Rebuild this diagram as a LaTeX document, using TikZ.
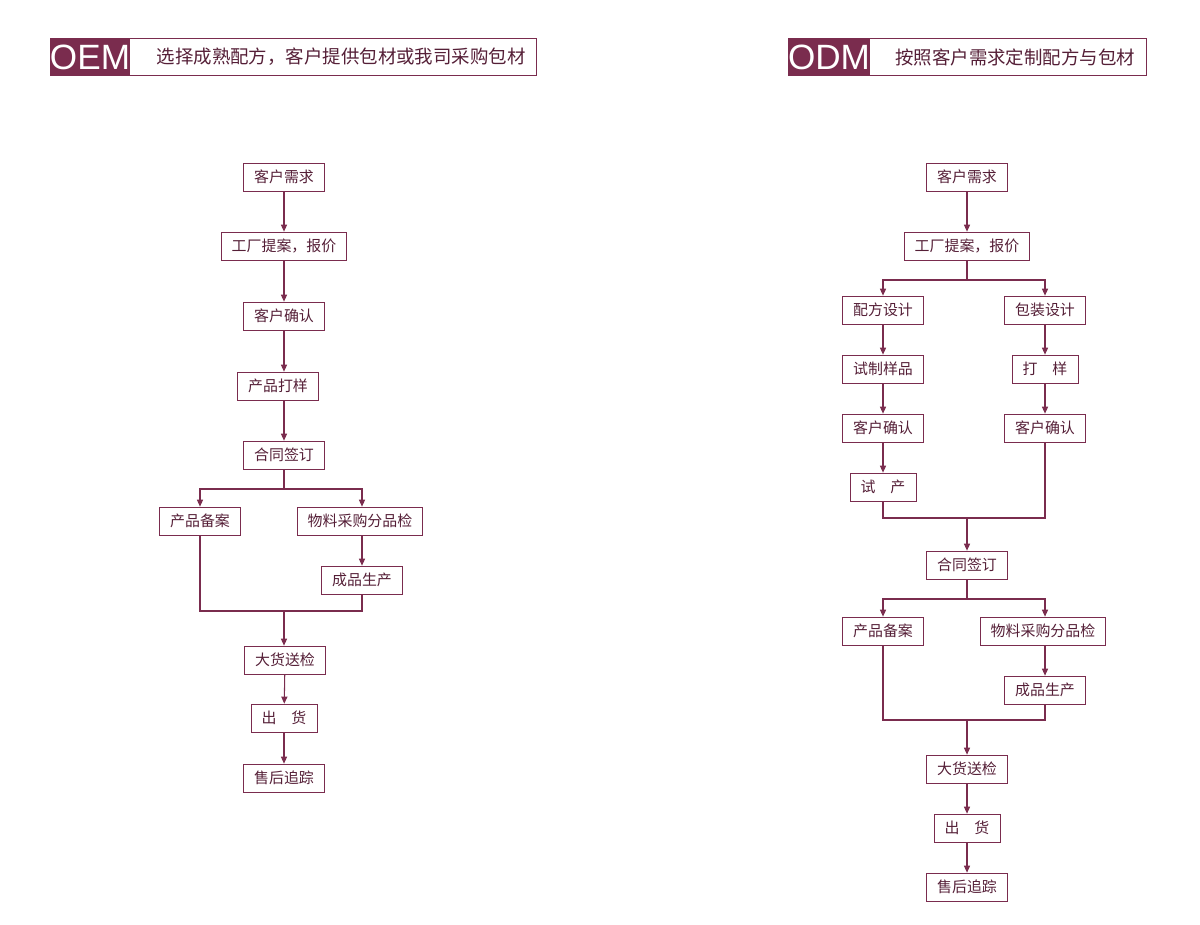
\documentclass[tikz,border=0pt]{standalone}
\usepackage{fontspec}
\setmainfont{Liberation Sans}
\newfontfamily\cjk{Noto Sans CJK SC}
\usetikzlibrary{arrows.meta,positioning}
\definecolor{plum}{HTML}{7A2C4E}
\tikzset{
	box/.style={draw=plum,rectangle,align=center,minimum height=0.56cm,inner xsep=6pt,font=\cjk\fontsize{8.5}{10}\selectfont,text=plum!70!black},
	flow/.style={draw=plum,line width=0.6pt,-{Triangle[length=4pt,width=3.5pt]}},
	link/.style={draw=plum,line width=0.6pt},
	tag/.style={fill=plum,text=white,minimum height=0.74cm,minimum width=1.62cm,inner sep=0pt,font=\fontsize{20}{20}\selectfont},
	banner/.style={draw=plum,line width=0.8pt,minimum height=0.74cm,inner sep=0pt,anchor=west,font=\cjk\fontsize{10.5}{12}\selectfont,text=plum!70!black}
}
\begin{document}
\begin{tikzpicture}[x=0.02cm,y=-0.02cm]
	\useasboundingbox (0,0) rectangle (1200,925);
	% headers
	\node[banner,minimum width=9.72cm] (oemb) at (50,57) {\hspace{1.9cm}选择成熟配方，客户提供包材或我司采购包材};
	\node[tag] (oem) at (90,57) {OEM};
	\node[banner,minimum width=7.16cm] (odmb) at (788,57) {\hspace{1.9cm}按照客户需求定制配方与包材};
	\node[tag] (odm) at (829,57) {ODM};
	% OEM
	\node[box] (a1) at (284,177) {客户需求};
	\node[box] (a2) at (284,246) {工厂提案，报价};
	\node[box] (a3) at (284,316) {客户确认};
	\node[box] (a4) at (278,386) {产品打样};
	\node[box] (a5) at (284,455) {合同签订};
	\node[box] (a6) at (200,521) {产品备案};
	\node[box] (a7) at (360,521) {物料采购分品检};
	\node[box] (a8) at (362,580) {成品生产};
	\node[box] (a9) at (285,660) {大货送检};
	\node[box] (a10) at (284,718) {出\quad 货};
	\node[box] (a11) at (284,778) {售后追踪};
	\coordinate (aspl) at (284,489);
	\coordinate (ajoin) at (284,611);
	\draw[flow] (a1) -- (a2);
	\draw[flow] (a2) -- (a3);
	\draw[flow] (a3) -- (a3|-a4.north);
	\draw[flow] (a4.south-|a5) -- (a5);
	\draw[link] (a5) -- (aspl);
	\draw[flow] (aspl) -| (a6);
	\draw[flow] (aspl) -| (a8|-a7.north);
	\draw[flow] (a8|-a7.south) -- (a8);
	\draw[link] (a6) |- (ajoin) -| (a8);
	\draw[flow] (ajoin) -- (a9.north-|ajoin);
	\draw[flow] (a9) -- (a10);
	\draw[flow] (a10) -- (a11);
	% ODM
	\node[box] (b1) at (967,177) {客户需求};
	\node[box] (b2) at (967,246) {工厂提案，报价};
	\node[box] (b3) at (883,310) {配方设计};
	\node[box] (b4) at (1045,310) {包装设计};
	\node[box] (b5) at (883,369) {试制样品};
	\node[box] (b6) at (1045,369) {打\quad 样};
	\node[box] (b7) at (883,428) {客户确认};
	\node[box] (b8) at (1045,428) {客户确认};
	\node[box] (b9) at (883,487) {试\quad 产};
	\node[box] (b10) at (967,565) {合同签订};
	\node[box] (b11) at (883,631) {产品备案};
	\node[box] (b12) at (1043,631) {物料采购分品检};
	\node[box] (b13) at (1045,690) {成品生产};
	\node[box] (b14) at (967,769) {大货送检};
	\node[box] (b15) at (967,828) {出\quad 货};
	\node[box] (b16) at (967,887) {售后追踪};
	\coordinate (bspl) at (967,280);
	\coordinate (bjoin) at (967,518);
	\coordinate (bspl2) at (967,599);
	\coordinate (bjoin2) at (967,720);
	\draw[flow] (b1) -- (b2);
	\draw[link] (b2) -- (bspl);
	\draw[flow] (bspl) -| (b3);
	\draw[flow] (bspl) -| (b4);
	\draw[flow] (b3) -- (b5);
	\draw[flow] (b5) -- (b7);
	\draw[flow] (b7) -- (b9);
	\draw[flow] (b4) -- (b6);
	\draw[flow] (b6) -- (b8);
	\draw[link] (b9) |- (bjoin) -| (b8);
	\draw[flow] (bjoin) -- (b10);
	\draw[link] (b10) -- (bspl2);
	\draw[flow] (bspl2) -| (b11);
	\draw[flow] (bspl2) -| (b13|-b12.north);
	\draw[flow] (b13|-b12.south) -- (b13);
	\draw[link] (b11) |- (bjoin2) -| (b13);
	\draw[flow] (bjoin2) -- (b14);
	\draw[flow] (b14) -- (b15);
	\draw[flow] (b15) -- (b16);
\end{tikzpicture}
\end{document}
